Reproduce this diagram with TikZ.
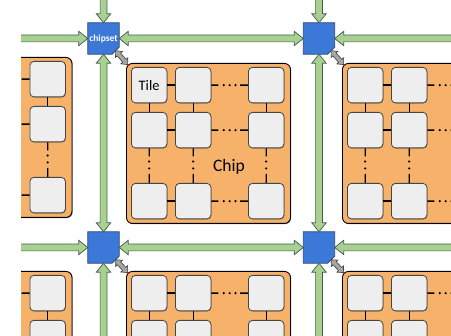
\documentclass[tikz,border=0pt]{standalone}
\usepackage{fontspec}
\setmainfont{Carlito}
\usetikzlibrary{calc,shadows}
\definecolor{arrgreen}{HTML}{A9D08E}
\definecolor{arrdark}{HTML}{3D5E50}
\definecolor{csblue}{HTML}{3C78D8}
\definecolor{csdark}{HTML}{2B4470}
\definecolor{chiporange}{HTML}{F6B26B}
\definecolor{tilegray}{HTML}{EEEEEE}
\definecolor{tileedge}{HTML}{454545}
\definecolor{lnkgray}{HTML}{A6A6A6}
\definecolor{lnkdark}{HTML}{404040}
\pgfdeclarelayer{bg}
\pgfsetlayers{bg,main}
\tikzset{
  dblblock/.style n args={3}{to path={
    -- ($(\tikztostart)!#1!(\tikztotarget)!#2!90:(\tikztotarget)$)
    -- ($(\tikztostart)!#1!(\tikztotarget)!#3!90:(\tikztotarget)$)
    -- ($(\tikztotarget)!#1!(\tikztostart)!#3!-90:(\tikztostart)$)
    -- ($(\tikztotarget)!#1!(\tikztostart)!#2!-90:(\tikztostart)$)
    -- (\tikztotarget)
    -- ($(\tikztotarget)!#1!(\tikztostart)!#2!90:(\tikztostart)$)
    -- ($(\tikztotarget)!#1!(\tikztostart)!#3!90:(\tikztostart)$)
    -- ($(\tikztostart)!#1!(\tikztotarget)!#3!-90:(\tikztotarget)$)
    -- ($(\tikztostart)!#1!(\tikztotarget)!#2!-90:(\tikztotarget)$)
    -- cycle}},
  sglblock/.style n args={3}{to path={
    ($(\tikztostart)!#3!90:(\tikztotarget)$)
    -- ($(\tikztotarget)!#1!(\tikztostart)!#3!-90:(\tikztostart)$)
    -- ($(\tikztotarget)!#1!(\tikztostart)!#2!-90:(\tikztostart)$)
    -- (\tikztotarget)
    -- ($(\tikztotarget)!#1!(\tikztostart)!#2!90:(\tikztostart)$)
    -- ($(\tikztotarget)!#1!(\tikztostart)!#3!90:(\tikztostart)$)
    -- ($(\tikztostart)!#3!-90:(\tikztotarget)$)
    -- cycle}},
  greenblk/.style={draw=arrdark, fill=arrgreen, line width=0.7pt, line join=miter},
  gdbl/.style={greenblk, dblblock={9pt}{7.2pt}{3.4pt}},
  gsgl/.style={greenblk, sglblock={9pt}{7.2pt}{3.4pt}},
  graydbl/.style={draw=lnkdark, fill=lnkgray, line width=0.6pt, line join=miter, dblblock={5pt}{4.6pt}{2.2pt}},
  csnode/.style={shape=rectangle, minimum size=31pt, inner sep=0pt, text=white,
    font=\fontsize{9.5}{10}\selectfont\bfseries},
  csshape/.style={fill=csblue, draw=csdark, line width=0.8pt},
  chipbox/.style={shape=rectangle, minimum width=164pt, minimum height=160pt, inner sep=0pt,
    fill=chiporange, draw=black, line width=0.9pt, rounded corners=6pt,
    drop shadow={shadow xshift=0.7pt, shadow yshift=-0.7pt, opacity=0.55, fill=black}},
  tilebox/.style={shape=rectangle, minimum size=35.5pt, inner sep=0pt,
    fill=tilegray, draw=tileedge, line width=0.8pt, rounded corners=4pt,
    drop shadow={shadow xshift=0.5pt, shadow yshift=-0.5pt, opacity=0.4, fill=black}},
  lnk/.style={draw=black, line width=1.3pt},
  hdots/.style={to path={-- ($(\tikztostart)!7pt!(\tikztotarget)$)
    ($(\tikztotarget)!8pt!(\tikztostart)$) -- (\tikztotarget)
    ($(\tikztostart)!0.34!(\tikztotarget)$) circle[radius=0.3pt]
    ($(\tikztostart)!0.5!(\tikztotarget)$) circle[radius=0.3pt]
    ($(\tikztostart)!0.66!(\tikztotarget)$) circle[radius=0.3pt]}},
  vdots/.style={to path={-- ($(\tikztostart)!8pt!(\tikztotarget)$)
    ($(\tikztotarget)!9pt!(\tikztostart)$) -- (\tikztotarget)
    ($(\tikztostart)!0.38!(\tikztotarget)$) circle[radius=0.3pt]
    ($(\tikztostart)!0.58!(\tikztotarget)$) circle[radius=0.3pt]}},
  tiletext/.style={font=\fontsize{14.5}{15}\selectfont, text=black},
  chiptext/.style={font=\fontsize{17.5}{18}\selectfont, text=black},
}
\newcommand\chipgrid[3]{%
  \node[chipbox, anchor=north west] (#1) at (#2,#3) {};
  \foreach \r/\ry in {1/4,2/49,3/120}{
    \foreach \c/\cx in {1/5,2/49,3/122}{
      \node[tilebox, anchor=north west] (#1-\r-\c) at ({#2+\cx},{#3+\ry}) {};
    }}
  \foreach \r in {1,2,3}{
    \draw[lnk] (#1-\r-1.east) -- (#1-\r-2.west);
    \draw[lnk] (#1-\r-2.east) to[hdots] (#1-\r-3.west);
  }
  \foreach \c in {1,2,3}{
    \draw[lnk] (#1-1-\c.south) -- (#1-2-\c.north);
    \draw[lnk] (#1-2-\c.south) to[vdots] (#1-3-\c.north);
  }
}
\newcommand\chipsetshape[1]{%
  \begin{pgfonlayer}{bg}
  \filldraw[csshape] (#1.north west) -- (#1.north east) -- ([yshift=7pt]#1.south east)
    -- ([xshift=-7pt]#1.south east) -- (#1.south west) -- cycle;
  \end{pgfonlayer}}
\begin{document}
\begin{tikzpicture}[x=1pt,y=-1pt]
\useasboundingbox (0,0) rectangle (451,336);
\begin{pgfonlayer}{bg}
\fill[white] (0,0) rectangle (451,336);
\end{pgfonlayer}
\clip (21,0) rectangle (451,336);
% chips
\chipgrid{chipTL}{-92.5}{57}
\chipgrid{chipTC}{126}{63}
\chipgrid{chipTR}{342}{63}
\chipgrid{chipBL}{-92.5}{271}
\chipgrid{chipBC}{126}{271}
\chipgrid{chipBR}{342}{271}
\node[tiletext] (tiletxt) at (chipTC-1-1) {Tile};
\node[chiptext] (chiptxt) at (229,167) {Chip};
% chipsets
\node[csnode] (csA) at (103.5,38.5) {chipset};
\node[csnode] (csB) at (319,38.5) {};
\node[csnode] (csC) at (103.5,247.5) {};
\node[csnode] (csD) at (319,247.5) {};
\chipsetshape{csA}\chipsetshape{csB}\chipsetshape{csC}\chipsetshape{csD}
% free ends
\coordinate (tA) at (103.5,-6);
\coordinate (tB) at (319,-6);
\coordinate (bC) at (103.5,342);
\coordinate (bD) at (319,342);
\coordinate (lA) at (12,38.5);
\coordinate (rB) at (460,38.5);
\coordinate (lC) at (12,247.5);
\coordinate (rD) at (460,247.5);
% green links
\path[gsgl] (tA) to (csA.north);
\path[gsgl] (tB) to (csB.north);
\path[gsgl] (bC) to (csC.south);
\path[gsgl] (bD) to (csD.south);
\path[gsgl] (lA) to (csA.west);
\path[gsgl] (rB) to (csB.east);
\path[gsgl] (lC) to (csC.west);
\path[gsgl] (rD) to (csD.east);
\path[gdbl] (csA.east) to (csB.west);
\path[gdbl] (csC.east) to (csD.west);
\path[gdbl] (csA.south) to (csC.north);
\path[gdbl] (csB.south) to (csD.north);
% gray links chipset-chip
\coordinate (gA1) at ([xshift=-3.5pt,yshift=3.5pt]csA.south east);
\coordinate (gB1) at ([xshift=-3.5pt,yshift=3.5pt]csB.south east);
\coordinate (gC1) at ([xshift=-3.5pt,yshift=3.5pt]csC.south east);
\coordinate (gD1) at ([xshift=-3.5pt,yshift=3.5pt]csD.south east);
\coordinate (gA2) at ([xshift=1.6pt,yshift=-1.6pt]chipTC.north west);
\coordinate (gB2) at ([xshift=1.6pt,yshift=-1.6pt]chipTR.north west);
\coordinate (gC2) at ([xshift=1.6pt,yshift=-1.6pt]chipBC.north west);
\coordinate (gD2) at ([xshift=1.6pt,yshift=-1.6pt]chipBR.north west);
\path[graydbl] (gA1) to (gA2);
\path[graydbl] (gB1) to (gB2);
\path[graydbl] (gC1) to (gC2);
\path[graydbl] (gD1) to (gD2);
\end{tikzpicture}
\end{document}
